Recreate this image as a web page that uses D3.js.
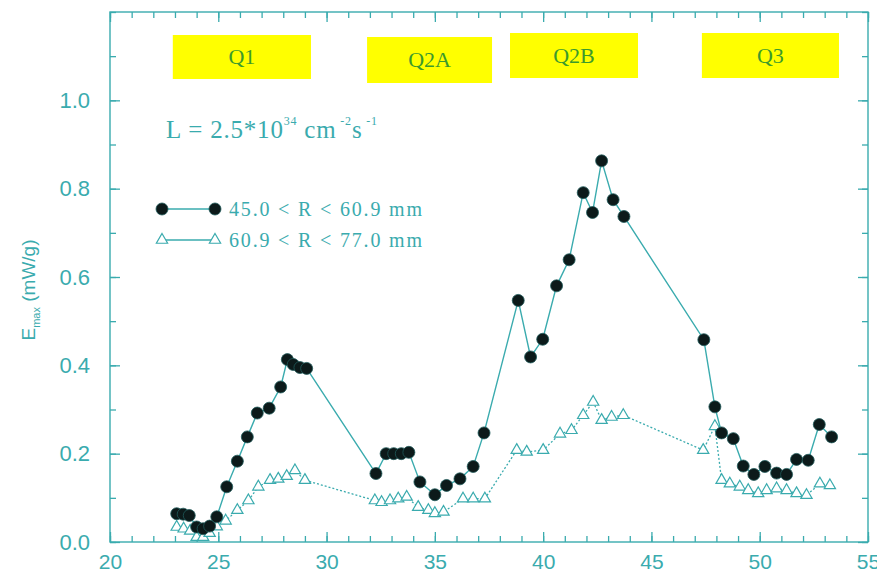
<!DOCTYPE html>
<html>
<head>
<meta charset="utf-8">
<script src="https://cdn.jsdelivr.net/npm/d3@7"></script>
<style>
  html, body { margin: 0; padding: 0; background: #fff; }
  svg { display: block; }
</style>
</head>
<body>
<svg id="chart" width="877" height="577"></svg>
<script>
// Inner radius band, 45.0 < R < 60.9 mm
const innerX = [23.08, 23.38, 23.66, 24.0, 24.3, 24.6, 24.93, 25.39, 25.88, 26.34, 26.8, 27.35, 27.88, 28.19, 28.46, 28.77, 29.08,
  32.28, 32.75, 33.1, 33.45, 33.8, 34.31, 35.0, 35.54, 36.16, 36.77, 37.27,
  38.85, 39.42, 39.98, 40.62, 41.2, 41.85, 42.28, 42.7, 43.23, 43.73,
  47.42, 47.93, 48.24, 48.78, 49.24, 49.73, 50.24, 50.78, 51.24, 51.7, 52.24, 52.75, 53.32];
const innerY = [0.064, 0.063, 0.060, 0.034, 0.030, 0.036, 0.057, 0.125, 0.183, 0.238, 0.292, 0.303, 0.351, 0.413, 0.402, 0.395, 0.393,
  0.155, 0.200, 0.200, 0.200, 0.203, 0.136, 0.107, 0.128, 0.143, 0.171, 0.247,
  0.547, 0.419, 0.459, 0.580, 0.639, 0.791, 0.746, 0.863, 0.775, 0.737,
  0.458, 0.306, 0.247, 0.234, 0.172, 0.153, 0.171, 0.156, 0.153, 0.187, 0.185, 0.266, 0.238];

// Outer radius band, 60.9 < R < 77.0 mm
const outerX = [23.08, 23.4, 23.7, 24.0, 24.3, 24.6, 24.93, 25.34, 25.88, 26.39, 26.85, 27.39, 27.77, 28.16, 28.54, 29.0,
  32.23, 32.54, 32.93, 33.31, 33.7, 34.23, 34.7, 35.0, 35.4, 36.3, 36.77, 37.31,
  38.78, 39.24, 40.0, 40.78, 41.31, 41.85, 42.31, 42.7, 43.16, 43.7,
  47.39, 47.93, 48.24, 48.62, 49.08, 49.47, 49.93, 50.32, 50.78, 51.24, 51.7, 52.16, 52.78, 53.24];
const outerY = [0.034, 0.030, 0.025, 0.011, 0.011, 0.020, 0.035, 0.048, 0.072, 0.094, 0.125, 0.140, 0.143, 0.149, 0.162, 0.140,
  0.094, 0.090, 0.094, 0.098, 0.102, 0.079, 0.072, 0.065, 0.068, 0.098, 0.098, 0.098,
  0.208, 0.204, 0.208, 0.245, 0.253, 0.287, 0.317, 0.276, 0.283, 0.287,
  0.208, 0.262, 0.140, 0.132, 0.125, 0.117, 0.110, 0.117, 0.121, 0.117, 0.110, 0.106, 0.132, 0.128];

const xTicks = [20, 25, 30, 35, 40, 45, 50, 55];
const yTicks = [0.0, 0.2, 0.4, 0.6, 0.8, 1.0];

// Run period bands along the top: label, start, end
const periodLabels = ["Q1", "Q2A", "Q2B", "Q3"];
const periodStart = [22.9, 31.87, 38.47, 47.33];
const periodEnd = [29.28, 37.64, 44.38, 53.66];

const legendLabels = ["45.0 < R < 60.9 mm", "60.9 < R < 77.0 mm"];

const teal = "#3aabae";
const green = "#3c9a2c";

const svg = d3.select("#chart");
const margin = { left: 110, right: 9, top: 12, bottom: 35 };
const W = 877, H = 577;

const x = d3.scaleLinear().domain([20, 55]).range([margin.left, W - margin.right]);
const y = d3.scaleLinear().domain([0, 1.2]).range([H - margin.bottom, margin.top]);

// Frame
svg.append("rect")
  .attr("x", x(20)).attr("y", y(1.2))
  .attr("width", x(55) - x(20)).attr("height", y(0) - y(1.2))
  .attr("fill", "none").attr("stroke", teal).attr("stroke-width", 1.4);

// Axes with inward ticks on all four sides
const minorX = d3.range(20, 55.01, 1);
const minorY = d3.range(0, 1.201, 0.1);

function tickAxis(g, axis) { g.call(axis); g.select(".domain").remove(); g.selectAll("line").attr("stroke", teal).attr("stroke-width", 1.3); }

svg.append("g").attr("transform", `translate(0,${y(0)})`)
  .call(g => tickAxis(g, d3.axisBottom(x).tickValues(minorX).tickSize(-6).tickFormat("")));
svg.append("g").attr("transform", `translate(0,${y(0)})`)
  .call(g => tickAxis(g, d3.axisBottom(x).tickValues(xTicks).tickSize(-10).tickPadding(12).tickFormat(d3.format("d"))))
  .call(g => g.selectAll("text").attr("fill", teal).attr("font-family", "Liberation Sans, Arial, sans-serif").attr("font-size", 21));

svg.append("g").attr("transform", `translate(0,${y(1.2)})`)
  .call(g => tickAxis(g, d3.axisTop(x).tickValues(minorX).tickSize(-6).tickFormat("")));
svg.append("g").attr("transform", `translate(0,${y(1.2)})`)
  .call(g => tickAxis(g, d3.axisTop(x).tickValues(xTicks).tickSize(-10).tickFormat("")));

svg.append("g").attr("transform", `translate(${x(20)},0)`)
  .call(g => tickAxis(g, d3.axisLeft(y).tickValues(minorY).tickSize(-6).tickFormat("")));
svg.append("g").attr("transform", `translate(${x(20)},0)`)
  .call(g => tickAxis(g, d3.axisLeft(y).tickValues(yTicks).tickSize(-10).tickPadding(20).tickFormat(d3.format(".1f"))))
  .call(g => g.selectAll("text").attr("fill", teal).attr("font-family", "Liberation Sans, Arial, sans-serif").attr("font-size", 22));

svg.append("g").attr("transform", `translate(${x(55)},0)`)
  .call(g => tickAxis(g, d3.axisRight(y).tickValues(minorY).tickSize(-6).tickFormat("")));
svg.append("g").attr("transform", `translate(${x(55)},0)`)
  .call(g => tickAxis(g, d3.axisRight(y).tickValues(yTicks).tickSize(-10).tickFormat("")));

// Y axis title: E_max (mW/g)
const yTitle = svg.append("text")
  .attr("transform", "translate(35,290) rotate(-90)")
  .attr("text-anchor", "middle")
  .attr("fill", teal)
  .attr("font-family", "Liberation Sans, Arial, sans-serif")
  .attr("font-size", 19);
yTitle.append("tspan").text("E");
yTitle.append("tspan").attr("font-size", 11).attr("dy", 5).text("max");
yTitle.append("tspan").attr("dy", -5).text(" (mW/g)");

// Period bands
const bandTop = [35, 37, 33, 33];
const bandBottom = [79, 83, 78, 78];
periodLabels.forEach((lab, i) => {
  svg.append("rect")
    .attr("x", x(periodStart[i])).attr("y", bandTop[i])
    .attr("width", x(periodEnd[i]) - x(periodStart[i]))
    .attr("height", bandBottom[i] - bandTop[i])
    .attr("fill", "#ffff00");
  svg.append("text")
    .attr("x", (x(periodStart[i]) + x(periodEnd[i])) / 2)
    .attr("y", (bandTop[i] + bandBottom[i]) / 2 + 7)
    .attr("text-anchor", "middle")
    .attr("fill", green)
    .attr("font-family", "Liberation Serif, Times New Roman, serif")
    .attr("font-size", 22)
    .text(lab);
});

// Luminosity annotation
const lum = svg.append("text")
  .attr("x", 166).attr("y", 138)
  .attr("fill", teal)
  .attr("font-family", "Liberation Serif, Times New Roman, serif")
  .attr("font-size", 25)
  .attr("letter-spacing", 0.8);
lum.append("tspan").text("L = 2.5*10");
lum.append("tspan").attr("font-size", 12).attr("dy", -13).text("34");
lum.append("tspan").attr("dy", 13).text(" cm");
lum.append("tspan").attr("font-size", 12).attr("dy", -13).text(" -2");
lum.append("tspan").attr("dy", 13).text("s");
lum.append("tspan").attr("font-size", 12).attr("dy", -13).text(" -1");

// Series lines
const innerPts = innerX.map((v, i) => [v, innerY[i]]);
const outerPts = outerX.map((v, i) => [v, outerY[i]]);
const line = d3.line().x(d => x(d[0])).y(d => y(d[1]));

svg.append("path").datum(outerPts)
  .attr("d", line).attr("fill", "none")
  .attr("stroke", teal).attr("stroke-width", 1.3).attr("stroke-dasharray", "2,2");
svg.append("path").datum(innerPts)
  .attr("d", line).attr("fill", "none")
  .attr("stroke", teal).attr("stroke-width", 1.4);

// Markers
const tri = d3.symbol().type(d3.symbolTriangle).size(55);
svg.append("g").selectAll("path").data(outerPts).join("path")
  .attr("transform", d => `translate(${x(d[0])},${y(d[1])})`)
  .attr("d", tri)
  .attr("fill", "#fff").attr("stroke", teal).attr("stroke-width", 1.2);

svg.append("g").selectAll("circle").data(innerPts).join("circle")
  .attr("cx", d => x(d[0])).attr("cy", d => y(d[1]))
  .attr("r", 6)
  .attr("fill", "#0c1a1a").attr("stroke", "#1f5a5a").attr("stroke-width", 0.8);

// Legend
const legY = [209, 240];
const legX0 = 162, legX1 = 215;
svg.append("line").attr("x1", legX0).attr("x2", legX1).attr("y1", legY[0]).attr("y2", legY[0])
  .attr("stroke", teal).attr("stroke-width", 1.4);
svg.append("line").attr("x1", legX0).attr("x2", legX1).attr("y1", legY[1]).attr("y2", legY[1])
  .attr("stroke", teal).attr("stroke-width", 1.3);
[legX0, legX1].forEach(lx => {
  svg.append("circle").attr("cx", lx).attr("cy", legY[0]).attr("r", 6)
    .attr("fill", "#0c1a1a").attr("stroke", "#1f5a5a").attr("stroke-width", 0.8);
  svg.append("path").attr("transform", `translate(${lx},${legY[1]})`).attr("d", tri)
    .attr("fill", "#fff").attr("stroke", teal).attr("stroke-width", 1.2);
});
legendLabels.forEach((t, i) => {
  svg.append("text")
    .attr("x", 229).attr("y", legY[i] + 7)
    .attr("fill", teal)
    .attr("font-family", "Liberation Serif, Times New Roman, serif")
    .attr("font-size", 20)
    .attr("textLength", 193)
    .attr("lengthAdjust", "spacing")
    .text(t);
});
</script>
</body>
</html>
